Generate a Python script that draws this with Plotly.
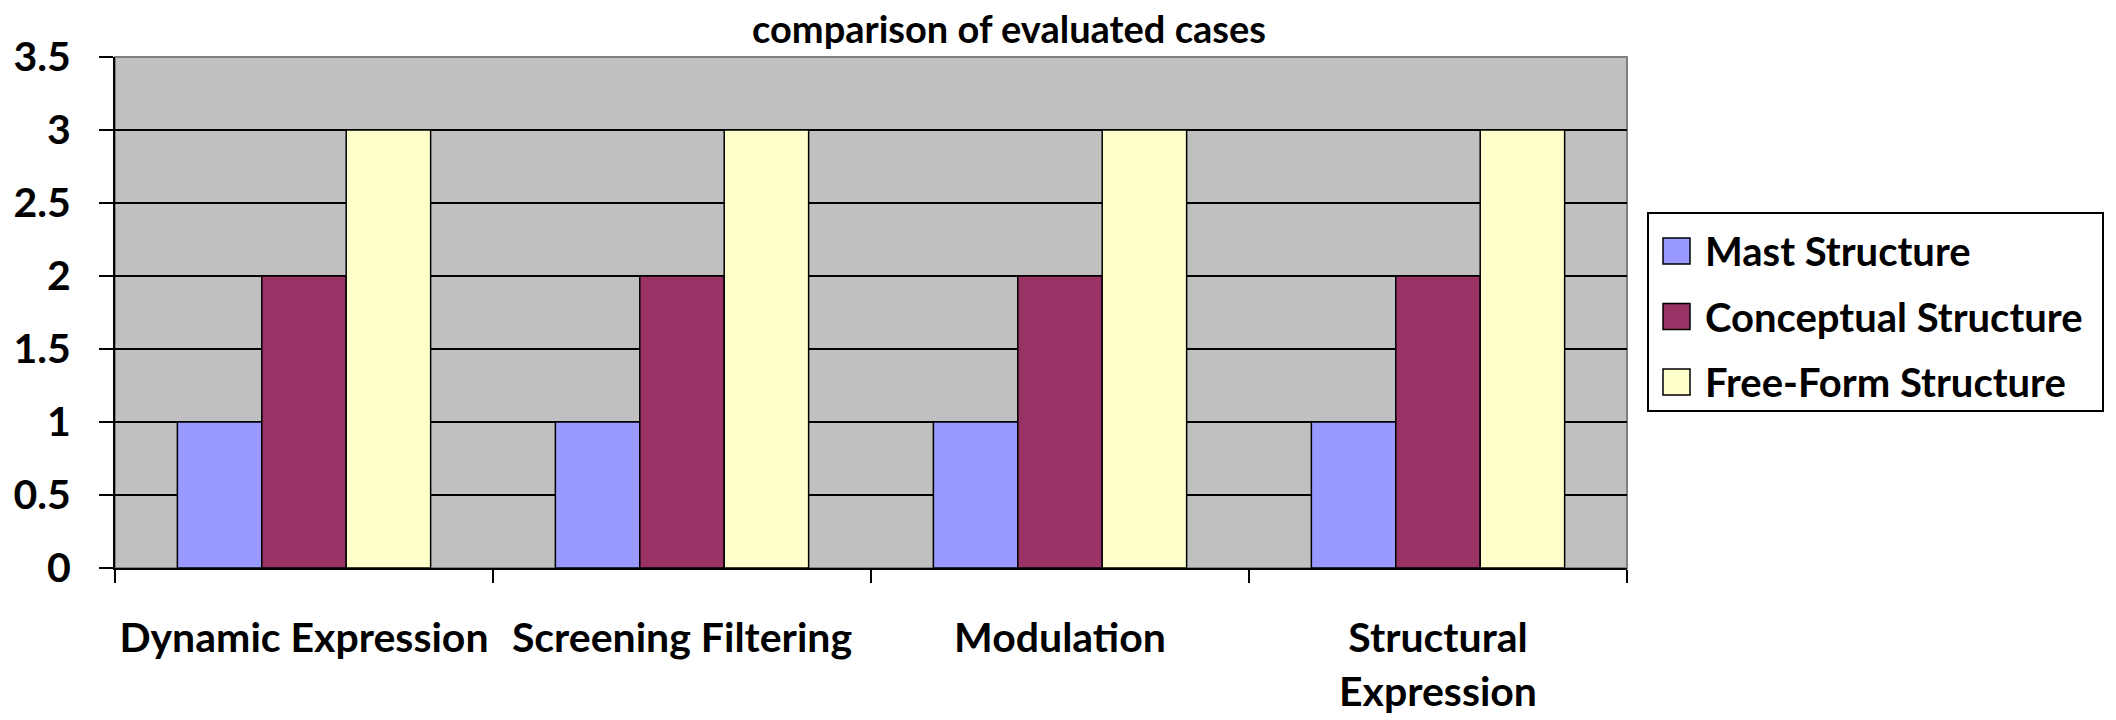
import plotly.graph_objects as go

# datos del gráfico
casos = ["Dynamic Expression", "Screening Filtering", "Modulation", "Structural<br>Expression"]
mast = [1, 1, 1, 1]
conceptual = [2, 2, 2, 2]
free_form = [3, 3, 3, 3]
series = [
    ("Mast Structure", mast, "#9999FF"),
    ("Conceptual Structure", conceptual, "#993366"),
    ("Free-Form Structure", free_form, "#FFFFCC"),
]
y_ticks = [0, 0.5, 1, 1.5, 2, 2.5, 3, 3.5]

FONT = "Lato"
W, H = 2116, 720
# área del gráfico en píxeles
L, R, T, B = 115, 1627, 57, 568


def px_x(x):
    return (x - L) / (R - L)


def px_y(y):
    return (B - y) / (B - T)


fig = go.Figure()
for nombre, valores, color in series:
    fig.add_trace(go.Bar(
        x=casos, y=valores, name=nombre,
        marker=dict(color=color, line=dict(color="black", width=1.5)),
        showlegend=False,
    ))

# leyenda dibujada a mano (cuadros grandes como en Excel)
shapes = [dict(type="rect", xref="paper", yref="paper", layer="below",
               x0=0, x1=1, y0=0, y1=1, line=dict(color="#808080", width=2))]
shapes.append(dict(type="rect", xref="paper", yref="paper",
                   x0=px_x(1648), x1=px_x(2103), y0=px_y(411), y1=px_y(213),
                   line=dict(color="black", width=2), fillcolor="white"))
annotations = []
for i, (nombre, _, color) in enumerate(series):
    cy = 251 + i * 65.5
    shapes.append(dict(type="rect", xref="paper", yref="paper",
                       x0=px_x(1663), x1=px_x(1690), y0=px_y(cy + 13), y1=px_y(cy - 13),
                       line=dict(color="black", width=1.5), fillcolor=color))
    annotations.append(dict(xref="paper", yref="paper", x=px_x(1703), y=px_y(cy),
                            xanchor="left", yanchor="middle", showarrow=False,
                            text=nombre, font=dict(family=FONT, size=40, weight="bold")))

fig.update_layout(
    width=W, height=H,
    margin=dict(l=L, r=W - R, t=T, b=H - B),
    paper_bgcolor="white",
    plot_bgcolor="#C0C0C0",
    barmode="group", bargap=0.33, bargroupgap=0,
    font=dict(family=FONT, size=41, color="black", weight="bold"),
    title=dict(
        text="comparison of evaluated cases",
        xref="container", yref="container",
        x=752 / W, xanchor="left",
        y=1 - 30 / H, yanchor="middle",
        font=dict(family=FONT, size=38, weight="bold"),
    ),
    shapes=shapes,
    annotations=annotations,
    showlegend=False,
)

fig.update_xaxes(
    automargin=False,
    tickangle=0,
    showline=True, linecolor="black", linewidth=2,
    ticks="outside", tickson="boundaries", ticklen=13, tickcolor="black", tickwidth=2,
    ticklabelstandoff=33,
    showgrid=False,
)
fig.update_yaxes(
    automargin=False,
    range=[0, 3.5], tickvals=y_ticks, ticktext=[f"{v:g}" for v in y_ticks],
    showline=True, linecolor="black", linewidth=2,
    ticks="outside", ticklen=14, tickcolor="black", tickwidth=2,
    showgrid=True, gridcolor="black", gridwidth=2,
    zeroline=False,
    ticklabelstandoff=20,
)

# quitar el margen por defecto del <body>
fig.write_html("out.html", config={"displayModeBar": False},
               post_script="document.body.style.margin='0';")
